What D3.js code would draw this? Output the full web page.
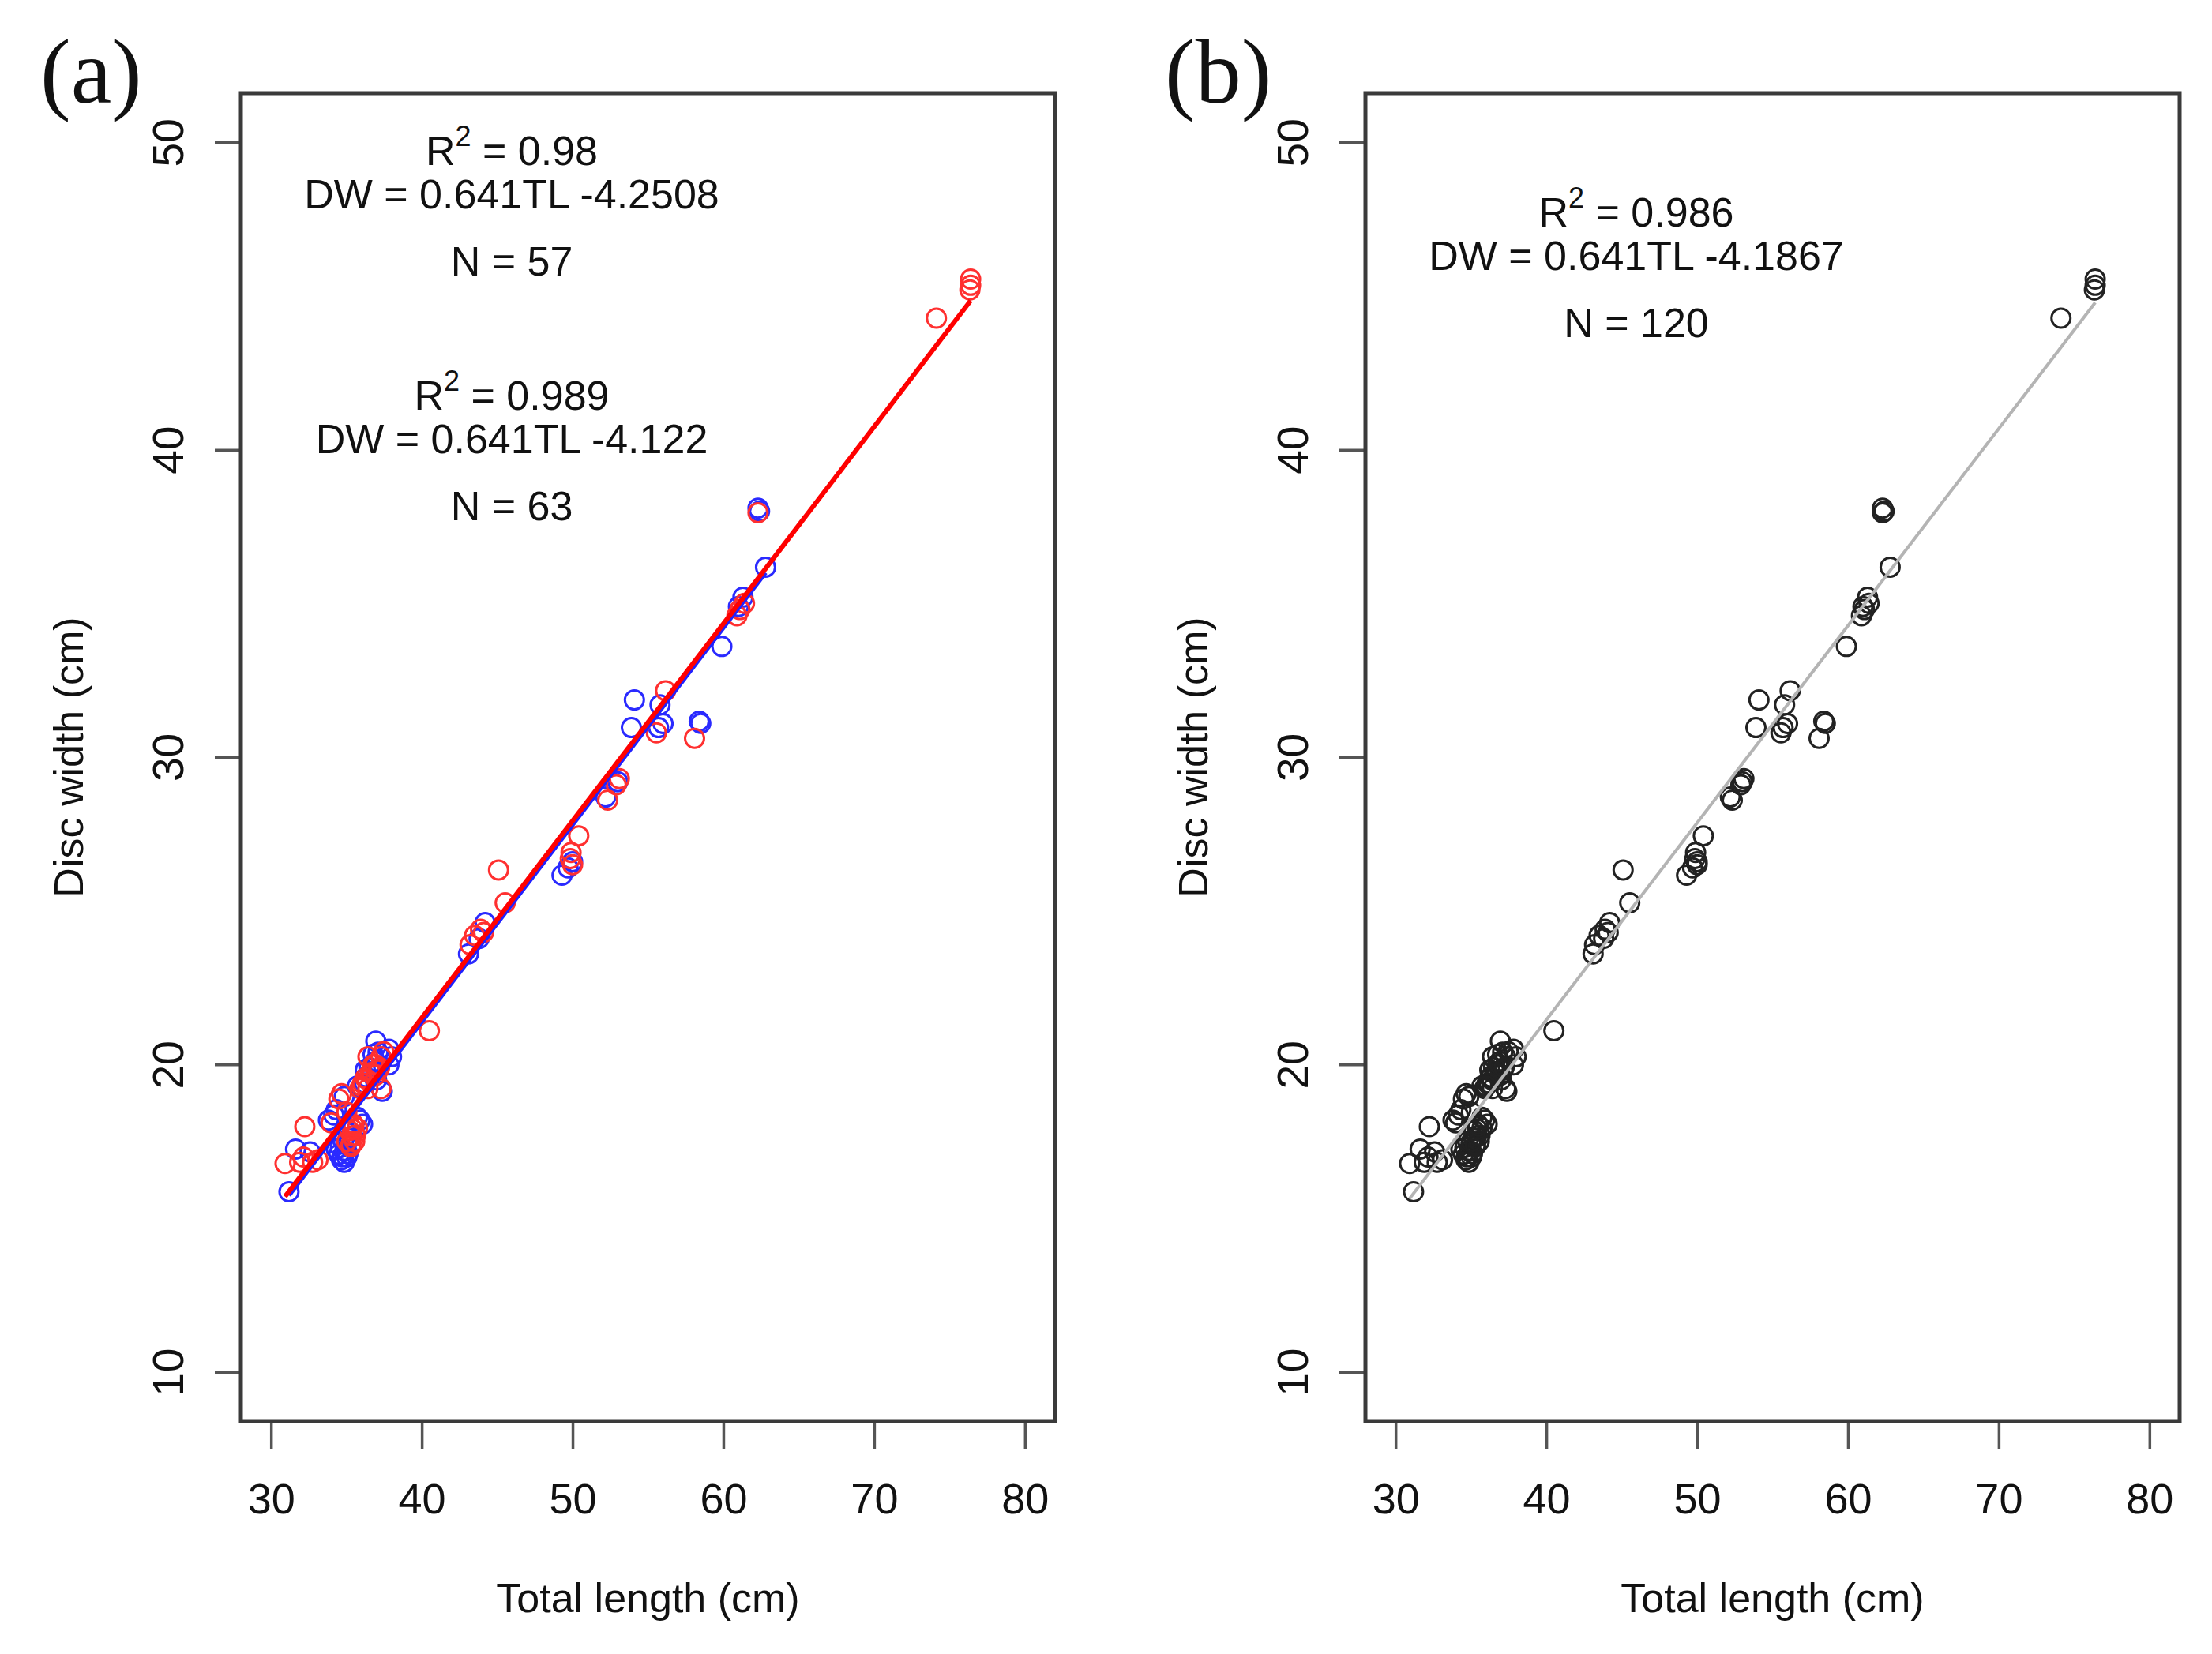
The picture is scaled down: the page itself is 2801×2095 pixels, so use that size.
<!DOCTYPE html>
<html>
<head>
<meta charset="utf-8">
<script src="https://cdn.jsdelivr.net/npm/d3@7"></script>
<style>
  html, body { margin: 0; padding: 0; background: #fff; }
  svg { display: block; }
</style>
</head>
<body>
<svg id="chart" width="2801" height="2095"></svg>
<script>
// ---------------- DATA ----------------
const xTicks = [30, 40, 50, 60, 70, 80];
const yTicks = [10, 20, 30, 40, 50];
const xLabel = "Total length (cm)";
const yLabel = "Disc width (cm)";
const panelLabels = ["(a)", "(b)"];

// Group 1 (blue, N = 57): total length (TL) and disc width (DW)
const blueTL = [62.3, 62.4, 62.8, 61.3, 61.0, 59.9,
  55.8, 54.1, 53.9, 56.0, 55.7, 58.4, 58.5, 53.0, 52.2, 50.0, 49.7, 49.3, 44.2, 43.1, 43.8,
  31.19, 31.63, 32.59, 33.81, 34.33, 34.86,
  34.5, 34.68, 34.33, 35.03, 34.86,
  35.9, 36.07, 35.73, 34.16, 37.38, 36.95,
  37.82, 37.99, 36.77, 36.25, 35.73, 37.82,
  34.7, 34.9, 35.0, 34.6, 35.1, 34.8, 35.2,
  36.3, 36.5, 36.9, 37.1, 36.2, 37.0];
const blueDW = [38.1, 38.0, 36.18, 35.2, 34.9, 33.6,
  31.7, 31.86, 30.96, 31.09, 30.96, 31.17, 31.1, 29.2, 28.7, 26.6, 26.4, 26.16, 24.62, 23.6, 24.1,
  15.86, 17.25, 17.16, 18.19, 18.53, 18.96,
  17.08, 16.9, 17.25, 16.99, 16.82,
  18.19, 18.06, 18.28, 18.36, 19.13, 20.76,
  20.5, 20.25, 20.33, 19.82, 19.3, 19.99,
  17.0, 17.2, 17.4, 17.3, 17.1, 17.5, 17.6,
  19.6, 19.9, 20.1, 20.4, 19.4, 19.5];

// Group 2 (red, N = 63)
const redTL = [76.4, 76.4, 76.35, 74.13, 62.3, 61.1, 61.4, 60.9,
  56.17, 55.56, 58.09, 53.1, 52.9, 52.33, 50.41, 49.9, 49.85, 50.0, 45.09, 45.53, 43.9, 44.1, 43.5, 43.2, 40.5,
  30.93, 32.24, 32.15, 32.76, 31.9, 33.11, 33.98, 34.68, 34.5,
  35.2, 35.38, 35.55, 35.03, 35.29, 35.73, 35.46, 35.03, 37.3,
  36.43, 36.77, 36.6, 36.25, 36.08, 36.95, 37.12, 36.43, 35.9, 37.3, 37.47,
  35.4, 35.6, 35.3, 35.5,
  36.7, 36.4, 36.9, 37.2, 36.0];
const redDW = [45.55, 45.35, 45.2, 44.28, 37.95, 34.8, 35.0, 34.6,
  32.16, 30.79, 30.61, 29.3, 29.1, 28.6, 27.44, 26.9, 26.7, 26.5, 26.33, 25.26, 24.4, 24.3, 24.2, 23.9, 21.1,
  16.78, 17.98, 16.99, 16.82, 16.82, 16.9, 18.1, 19.05, 18.88,
  17.85, 17.68, 17.5, 17.5, 17.33, 17.93, 18.06, 18.45, 19.22,
  20.25, 19.99, 19.73, 19.56, 19.39, 19.65, 19.82, 19.22, 19.22, 20.25, 20.42,
  17.9, 17.7, 17.4, 18.0,
  19.7, 19.5, 20.0, 19.9, 19.3];

// Fitted relationships DW = slope * TL + intercept
const fitBlue = { slope: 0.641, intercept: -4.2508 };
const fitRed = { slope: 0.641, intercept: -4.122 };
const fitAll = { slope: 0.641, intercept: -4.1867 };

const annotA = [
  { r2: "0.98", eq: "DW = 0.641TL -4.2508", n: "N = 57" },
  { r2: "0.989", eq: "DW = 0.641TL -4.122", n: "N = 63" }
];
const annotB = [{ r2: "0.986", eq: "DW = 0.641TL -4.1867", n: "N = 120" }];

// ---------------- DRAWING ----------------
(function () {
const svg = d3.select("#chart");
const FONT = "'Liberation Sans', Arial, 'DejaVu Sans', sans-serif";
const SERIF = "'Liberation Serif', 'Times New Roman', serif";

const panelW = 1031, plotTop = 118, plotBottom = 1800;
const panelLefts = [305, 1729];

const blue = blueTL.map((d, i) => ({ tl: d, dw: blueDW[i] }));
const red = redTL.map((d, i) => ({ tl: d, dw: redDW[i] }));
const all = blue.concat(red);

function drawPanel(idx, left) {
  const g = svg.append("g");
  const x = d3.scaleLinear().domain([28, 82]).range([left, left + panelW]);
  const y = d3.scaleLinear().domain([8.4, 51.6]).range([plotBottom, plotTop]);

  // axes
  const xa = g.append("g").attr("transform", `translate(0,${plotBottom})`)
    .call(d3.axisBottom(x).tickValues(xTicks).tickSize(35).tickFormat(d3.format("d")));
  xa.select(".domain").remove();
  xa.selectAll(".tick line").attr("stroke", "#555").attr("stroke-width", 3.5);
  xa.selectAll(".tick text").attr("y", 117).attr("dy", 0)
    .attr("font-family", FONT).attr("font-size", 54).attr("fill", "#111");

  const ya = g.append("g").attr("transform", `translate(${left},0)`)
    .call(d3.axisLeft(y).tickValues(yTicks).tickSize(33).tickFormat(d3.format("d")));
  ya.select(".domain").remove();
  ya.selectAll(".tick line").attr("stroke", "#555").attr("stroke-width", 3.5);
  ya.selectAll(".tick text").attr("x", 0).attr("dy", 0)
    .attr("transform", "translate(-73,0) rotate(-90)")
    .attr("text-anchor", "middle")
    .attr("font-family", FONT).attr("font-size", 55).attr("fill", "#111");

  // axis titles
  g.append("text").attr("x", left + panelW / 2).attr("y", 2042)
    .attr("text-anchor", "middle").attr("font-family", FONT).attr("font-size", 52)
    .attr("fill", "#111").text(xLabel);
  g.append("text")
    .attr("transform", `translate(${left - 200},${(plotTop + plotBottom) / 2}) rotate(-90)`)
    .attr("text-anchor", "middle").attr("font-family", FONT).attr("font-size", 52)
    .attr("fill", "#111").text(yLabel);

  // panel label
  g.append("text").attr("x", left - 254).attr("y", 130)
    .attr("font-family", SERIF).attr("font-size", 116).attr("fill", "#111")
    .text(panelLabels[idx]);

  const line = d3.line().x(d => x(d[0])).y(d => y(d[1]));
  function fitPts(pts, f) {
    const ext = d3.extent(pts, d => d.tl);
    return ext.map(t => [t, f.slope * t + f.intercept]);
  }
  function drawPts(pts, color) {
    g.append("g").selectAll("circle").data(pts).join("circle")
      .attr("cx", d => x(d.tl)).attr("cy", d => y(d.dw)).attr("r", 12)
      .attr("fill", "none").attr("stroke", color).attr("stroke-width", 3);
  }

  if (idx === 0) {
    drawPts(blue, "#2a2aff");
    drawPts(red, "#ff3030");
    g.append("path").datum(fitPts(blue, fitBlue)).attr("d", line)
      .attr("stroke", "#2020ff").attr("stroke-width", 5.5).attr("fill", "none");
    g.append("path").datum(fitPts(red, fitRed)).attr("d", line)
      .attr("stroke", "#ff0000").attr("stroke-width", 6).attr("fill", "none");
  } else {
    drawPts(all, "#222");
    g.append("path").datum(fitPts(all, fitAll)).attr("d", line)
      .attr("stroke", "#b4b4b4").attr("stroke-width", 4).attr("fill", "none");
  }

  // annotations
  const cx = left + 343;
  const annots = idx === 0 ? annotA : annotB;
  const bases = idx === 0 ? [209, 519] : [287];
  annots.forEach((a, i) => {
    const b = bases[i];
    const t = g.append("text").attr("x", cx).attr("y", b).attr("text-anchor", "middle")
      .attr("font-family", FONT).attr("font-size", 52).attr("fill", "#111");
    t.append("tspan").text("R");
    t.append("tspan").attr("font-size", 36).attr("dy", -24).text("2");
    t.append("tspan").attr("dy", 24).text(" = " + a.r2);
    g.append("text").attr("x", cx).attr("y", b + 55).attr("text-anchor", "middle")
      .attr("font-family", FONT).attr("font-size", 52).attr("fill", "#111").text(a.eq);
    g.append("text").attr("x", cx).attr("y", b + 140).attr("text-anchor", "middle")
      .attr("font-family", FONT).attr("font-size", 52).attr("fill", "#111").text(a.n);
  });

  // box
  g.append("rect").attr("x", left).attr("y", plotTop)
    .attr("width", panelW).attr("height", plotBottom - plotTop)
    .attr("fill", "none").attr("stroke", "#3a3a3a").attr("stroke-width", 5);
}

panelLefts.forEach((l, i) => drawPanel(i, l));
})();
</script>
</body>
</html>
